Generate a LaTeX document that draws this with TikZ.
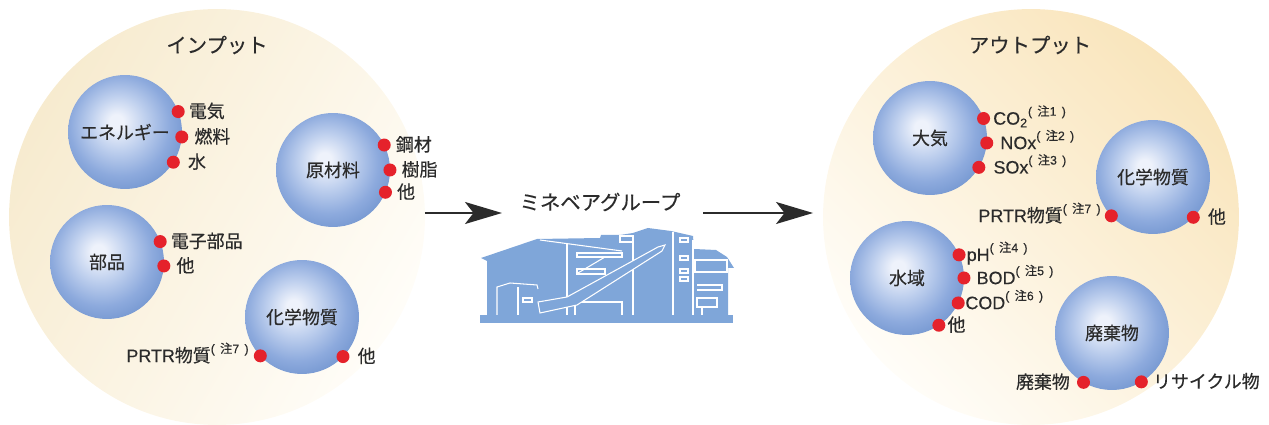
\documentclass[tikz,border=0pt]{standalone}
\usepackage{fontspec}
\setmainfont{Noto Sans CJK JP}[UprightFeatures={FakeBold=0.35}]
\newfontfamily\lfont{Liberation Sans}[UprightFeatures={FakeBold=0.35}]
\usetikzlibrary{positioning,arrows.meta}

\definecolor{creamL}{HTML}{F7EBCF}
\definecolor{creamR}{HTML}{F9E5BC}
\definecolor{paper}{HTML}{FFFDF8}
\definecolor{ballhi}{HTML}{EEF2FB}
\definecolor{ballmid}{HTML}{BFD0EE}
\definecolor{ballout}{HTML}{8DAADD}
\definecolor{ballrim}{HTML}{6E92CD}
\definecolor{plant}{HTML}{7FA6D9}
\definecolor{dotred}{HTML}{E5222B}
\definecolor{ink}{HTML}{2B2B2B}

% light blue ball, highlight a bit up and left
\pgfdeclareradialshading{sphere}{\pgfpoint{-4bp}{5bp}}{%
  color(0bp)=(ballhi); color(3bp)=(ballhi); color(12bp)=(ballmid);
  color(22bp)=(ballout); color(31bp)=(ballrim); color(50bp)=(ballrim)}

% latin words and the raised note mark (注n)
\newcommand\la[1]{{\lfont #1}}
\newcommand\chu[1]{\raisebox{0.5em}{\fontsize{7}{7}\selectfont\la{(}\kern3pt 注\la{#1}\kern3pt\la{)}}}

\tikzset{
  world/.style={circle, minimum size=8.32cm, inner sep=0pt, outer sep=0pt},
  bubble/.style={circle, minimum size=2.28cm, inner sep=0pt, outer sep=0pt, shading=sphere, text=ink},
  reddot/.style={circle, fill=dotred, minimum size=0.26cm, inner sep=0pt},
  lbl/.style={inner sep=0pt, text=ink, text height=0.85em, text depth=0.15em},
  title/.style={font=\fontsize{11.6}{14}\selectfont, text=ink},
  flow/.style={line width=1.1pt, draw=ink, -{Stealth[length=0.74cm, width=0.44cm, inset=0.17cm]}},
  wline/.style={draw=white, line width=0.6pt},
}

\begin{document}
\begin{tikzpicture}[x=0.02cm, y=-0.02cm, font=\fontsize{10.2}{12}\selectfont]
\useasboundingbox (0,0) rectangle (1269,425);

% input side
\node[world, top color=creamL, bottom color=paper, shading angle=60] (in) at (217,217) {};
\node[title] (intitle) at (217,45) {インプット};

\node[bubble] (energy) at (125,132) {エネルギー};
\node[reddot] (d-elec) at (energy.21) {};
\node[lbl, right=0.07cm of d-elec] (elec) {電気};
\node[reddot] (d-fuel) at (energy.-5) {};
\node[lbl, right=0.11cm of d-fuel] (fuel) {燃料};
\node[reddot] (d-water) at (energy.-32) {};
\node[lbl, right=0.15cm of d-water] (water) {水};

\node[bubble] (raw) at (333,170) {原材料};
\node[reddot] (d-steel) at (raw.26) {};
\node[lbl, right=0.09cm of d-steel] (steel) {鋼材};
\node[reddot] (d-resin) at (raw.0) {};
\node[lbl, right=0.09cm of d-resin] (resin) {樹脂};
\node[reddot] (d-rawetc) at (raw.-23) {};
\node[lbl, right=0.09cm of d-rawetc] (rawetc) {他};

\node[bubble] (parts) at (107,262) {部品};
\node[reddot] (d-elparts) at (parts.21) {};
\node[lbl, right=0.07cm of d-elparts] (elparts) {電子部品};
\node[reddot] (d-partsetc) at (parts.-4) {};
\node[lbl, right=0.11cm of d-partsetc] (partsetc) {他};

\node[bubble] (chemin) at (302,317) {化学物質};
\node[reddot] (d-prtrin) at (chemin.-137) {};
\node[lbl, left=0.09cm of d-prtrin] (prtrin) {\la{PRTR}物質\chu{7}};
\node[reddot] (d-cheminetc) at (chemin.-44) {};
\node[lbl, right=0.15cm of d-cheminetc] (cheminetc) {他};

% the group in the middle
\node[title] (group) at (600,202) {ミネベアグループ};
\coordinate (gin) at (502,213);
\coordinate (gout) at (703,213);
\draw[flow] (in.east |- gin) -- (gin);

\fill[plant] (480,315) rectangle (733,323);
\fill[plant] (487,315) -- (487,261) -- (481,258) -- (537,239) -- (600,238) -- (601,235)
  -- (620,235) -- (633,233) -- (648,228) -- (671,231) -- (693,236) -- (694,249)
  -- (716,250) -- (727,257) -- (734,268) -- (728,268) -- (728,315) -- cycle;
\draw[wline] (540,240) -- (622,251);
\draw[wline] (567,244) -- (567,315);
\draw[wline] (577,253) rectangle (622,257);
\draw[wline] (577,269) rectangle (605,274);
\draw[wline] (578,273) -- (605,257);
\draw[wline] (575,315) -- (575,302) -- (622,302) -- (622,315);
\draw[wline] (620,236) rectangle (633,242);
\draw[wline] (633,236) -- (633,315);
\draw[wline] (673,232) -- (673,315);
\draw[wline] (680,238) rectangle (688,242);
\draw[wline] (680,256) rectangle (688,260);
\draw[wline] (680,269) rectangle (688,273);
\draw[wline] (680,277) rectangle (688,281);
\draw[wline] (693,240) -- (693,315);
\draw[wline] (695,260) rectangle (727,272);
\draw[wline] (697,285) -- (722,285) -- (722,290) -- (697,290);
\draw[wline] (697,298) rectangle (717,307);
\draw[wline] (702,307) -- (702,315);
\filldraw[wline, fill=plant] (538,302) -- (567,297) -- (658,247) -- (665,245)
  -- (662,251) -- (577,305) -- (540,313) -- cycle;
\draw[wline] (497,315) -- (497,287) -- (510,283) -- (537,285) -- (538,289);
\draw[wline] (518,287) -- (518,315);
\draw[wline] (523,298) rectangle (532,302);

% output side
\node[world, top color=creamR, bottom color=paper, shading angle=-45] (out) at (1031,217) {};
\draw[flow, shorten >=0.2cm] (gout) -- (out.west |- gout);
\node[title] (outtitle) at (1030,45) {アウトプット};

\node[bubble] (air) at (930,138) {大気};
\node[reddot] (d-co2) at (air.20) {};
\node[lbl, right=0.05cm of d-co2] (co2) {\la{CO\textsubscript{2}}\chu{1}};
\node[reddot] (d-nox) at (air.-5) {};
\node[lbl, right=0.13cm of d-nox] (nox) {\la{NOx}\chu{2}};
\node[reddot] (d-sox) at (air.-31) {};
\node[lbl, right=0.15cm of d-sox] (sox) {\la{SOx}\chu{3}};

\node[bubble] (chemout) at (1153,177) {化学物質};
\node[reddot] (d-prtrout) at (chemout.-137) {};
\node[lbl, left=0.07cm of d-prtrout] (prtrout) {\la{PRTR}物質\chu{7}};
\node[reddot] (d-chemoutetc) at (chemout.-45) {};
\node[lbl, right=0.15cm of d-chemoutetc] (chemoutetc) {他};

\node[bubble] (sea) at (907,278) {水域};
\node[reddot] (d-ph) at (sea.24) {};
\node[lbl, right=0.01cm of d-ph] (ph) {\la{pH}\chu{4}};
\node[reddot] (d-bod) at (sea.0) {};
\node[lbl, right=0.11cm of d-bod] (bod) {\la{BOD}\chu{5}};
\node[reddot] (d-cod) at (sea.-26) {};
\node[lbl, right=0cm of d-cod] (cod) {\la{COD}\chu{6}};
\node[reddot] (d-seaetc) at (sea.-56) {};
\node[lbl, right=0.03cm of d-seaetc] (seaetc) {他};

\node[bubble] (waste) at (1112,333) {廃棄物};
\node[reddot] (d-scrap) at (waste.-120) {};
\node[lbl, left=0.13cm of d-scrap] (scrap) {廃棄物};
\node[reddot] (d-recycle) at (waste.-59) {};
\node[lbl, right=0.09cm of d-recycle] (recycle) {リサイクル物};
\end{tikzpicture}
\end{document}
